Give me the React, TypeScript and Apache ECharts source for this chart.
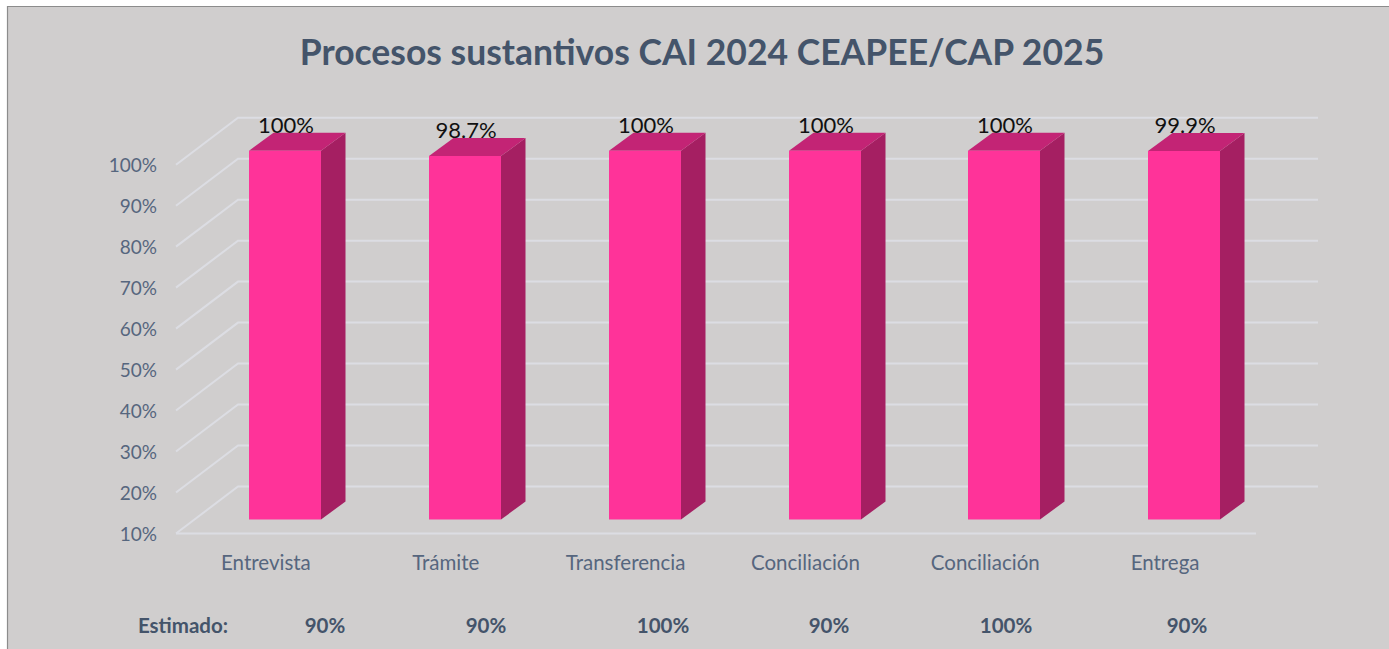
import React, { useEffect, useRef } from "react";
import * as echarts from "echarts";

const titleText = "Procesos sustantivos CAI 2024 CEAPEE/CAP 2025";
const categories = ["Entrevista", "Trámite", "Transferencia", "Conciliación", "Conciliación", "Entrega"];
const values = [100, 98.7, 100, 100, 100, 99.9];
const axisTicks = [10, 20, 30, 40, 50, 60, 70, 80, 90, 100];
const estimadoLabel = "Estimado:";
const estimadoValues = ["90%", "90%", "100%", "90%", "100%", "90%"];
const estimadoCenters = [325, 486, 663, 829, 1006, 1187];

const FONT = "Lato";
const WALL_DX = 62;
const WALL_DY = 47;
const BAR_DX = 19.1;
const BAR_DY = 14;
const BAR_W = 72;
const SIDE_DX = 24.5;
const SIDE_DY = 18;
const FLOOR_EXTRA = 1;

export default function App() {
  const ref = useRef<HTMLDivElement>(null);
  useEffect(() => {
    const chart = echarts.init(ref.current!, undefined, { renderer: "svg" });
    chart.setOption({
      animation: false,
      backgroundColor: "#ffffff",
      title: {
        text: titleText,
        left: 697,
        top: 28,
        textAlign: "center",
        textStyle: { fontFamily: FONT, fontSize: 35.5, fontWeight: "bold", color: "#44546a" },
      },
      grid: { left: 176, right: 134, top: 164.7, bottom: 115.5, containLabel: false },
      xAxis: {
        type: "category",
        data: categories,
        axisLine: { show: false },
        axisTick: { show: false },
        axisLabel: { fontFamily: FONT, fontSize: 20.5, color: "#56667e", margin: 18, interval: 0 },
      },
      yAxis: {
        type: "value",
        min: 10,
        max: 100,
        interval: 10,
        axisLine: { show: false },
        axisTick: { show: false },
        splitLine: { show: false },
        axisLabel: {
          fontFamily: FONT,
          fontSize: 19,
          color: "#56667e",
          margin: 19,
          formatter: (v: number) => `${v}%`,
        },
      },
      series: [
        {
          type: "custom",
          z: 1,
          silent: true,
          data: axisTicks.map((t) => [0, t]),
          encode: { x: 0, y: 1 },
          clip: false,
          renderItem: (params: any, api: any) => {
            const tick = api.value(1);
            const y = api.coord([0, tick])[1];
            const x0 = params.coordSys.x;
            const x1 = x0 + params.coordSys.width + FLOOR_EXTRA;
            const style = { stroke: "#dcdde3", lineWidth: 2, fill: "none" };
            const points: number[][] = [
              [x0, y],
              [x0 + WALL_DX, y - WALL_DY],
              [x1 + WALL_DX, y - WALL_DY],
            ];
            const children: any[] = [{ type: "polyline", shape: { points }, style }];
            if (tick === axisTicks[0]) {
              children.push({ type: "line", shape: { x1: x0, y1: y, x2: x1, y2: y }, style });
            }
            return { type: "group", children };
          },
        },
        {
          type: "custom",
          z: 3,
          silent: true,
          data: values.map((v, i) => [i, v]),
          encode: { x: 0, y: 1 },
          clip: false,
          renderItem: (_params: any, api: any) => {
            const cat = api.value(0);
            const val = api.value(1);
            const top = api.coord([cat, val]);
            const base = api.coord([cat, axisTicks[0]]);
            const l = Math.round(top[0] + BAR_DX - BAR_W / 2);
            const r = l + BAR_W;
            const t = top[1] - BAR_DY;
            const b = base[1] - BAR_DY;
            return {
              type: "group",
              children: [
                {
                  type: "polygon",
                  shape: { points: [[r, t], [r + SIDE_DX, t - SIDE_DY], [r + SIDE_DX, b - SIDE_DY], [r, b]] },
                  style: { fill: "#a51f62" },
                },
                {
                  type: "polygon",
                  shape: { points: [[l, t], [l + SIDE_DX, t - SIDE_DY], [r + SIDE_DX, t - SIDE_DY], [r, t]] },
                  style: { fill: "#c32475" },
                },
                {
                  type: "rect",
                  shape: { x: l, y: t, width: BAR_W, height: b - t },
                  style: { fill: "#ff3399" },
                },
                {
                  type: "text",
                  x: l + BAR_W / 2 + 1,
                  y: t - 26.5,
                  style: {
                    text: `${val}%`,
                    fontFamily: FONT,
                    fontSize: 22,
                    fill: "#111111",
                    align: "center",
                    verticalAlign: "middle",
                  },
                },
              ],
            };
          },
        },
      ],
      graphic: [
        {
          type: "rect",
          z: -10,
          silent: true,
          shape: { x: 7.5, y: 6.5, width: 1420, height: 700 },
          style: { fill: "#d0cece", stroke: "#8c8c8c", lineWidth: 1.2 },
        },
        {
          type: "text",
          z: 5,
          x: 183,
          y: 625,
          style: {
            text: estimadoLabel,
            fontFamily: FONT,
            fontSize: 20.5,
            fontWeight: "bold",
            fill: "#44546a",
            align: "center",
            verticalAlign: "middle",
          },
        },
        ...estimadoValues.map((text, i) => ({
          type: "text",
          z: 5,
          x: estimadoCenters[i],
          y: 625,
          style: {
            text,
            fontFamily: FONT,
            fontSize: 20.5,
            fontWeight: "bold",
            fill: "#44546a",
            align: "center",
            verticalAlign: "middle",
          },
        })),
      ],
    });
    return () => chart.dispose();
  }, []);
  return <div ref={ref} style={{ position: "fixed", left: 0, top: 0, width: 1389, height: 649 }} />;
}
